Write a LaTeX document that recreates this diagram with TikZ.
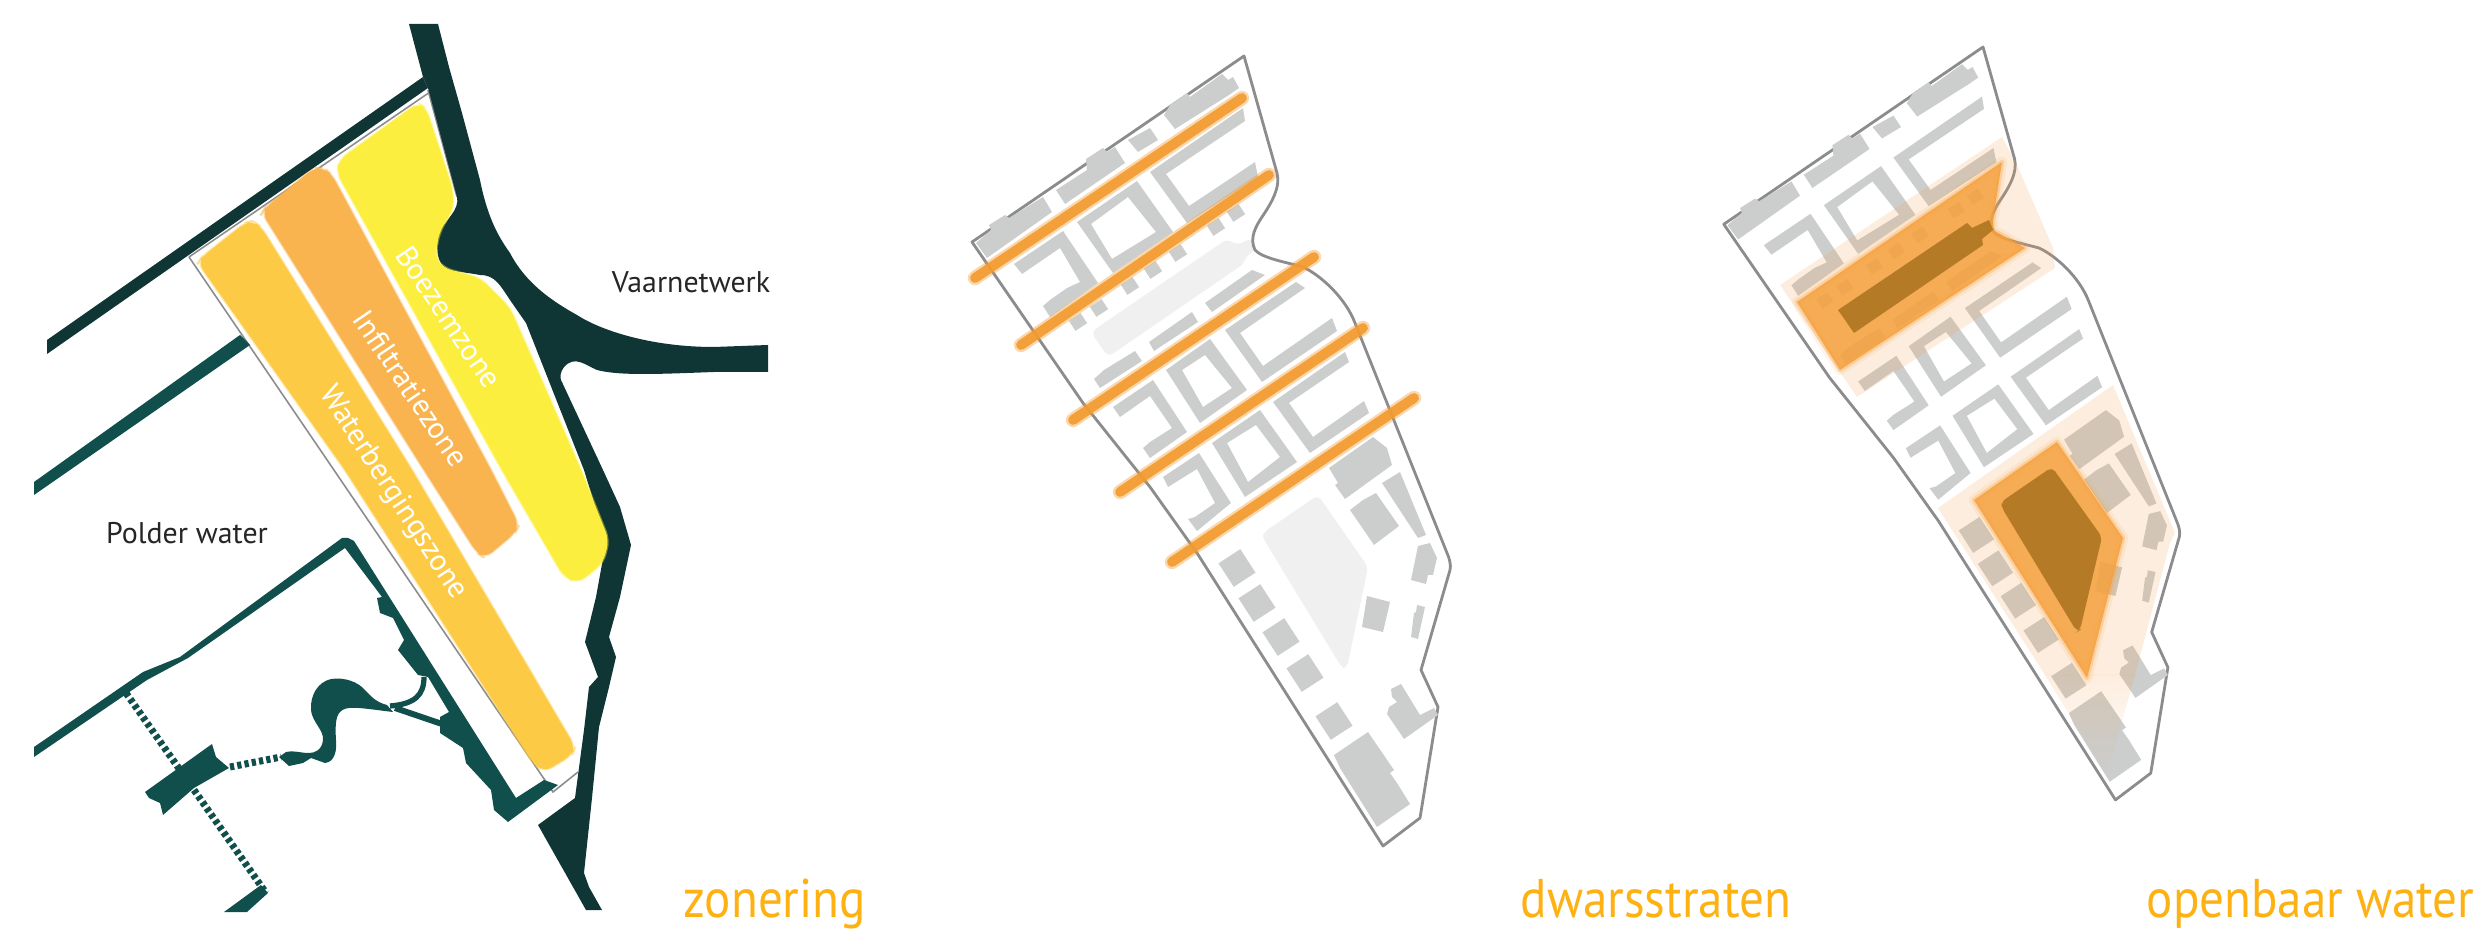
\documentclass[tikz,border=0pt]{standalone}
\usepackage{fontspec}
\setmainfont{PT Sans}
\newfontfamily\titlefont[FakeStretch=.9]{PT Sans}
\usepackage{tikz}
\usetikzlibrary{fadings}
\definecolor{channel}{HTML}{0F3535}
\definecolor{polder}{HTML}{114F4D}
\definecolor{bldgrey}{HTML}{CCCECD}
\definecolor{siteline}{HTML}{8C8C8E}
\definecolor{plaza}{HTML}{F0F0F0}
\definecolor{boezem}{HTML}{FCEE3E}
\definecolor{infil}{HTML}{F9B34F}
\definecolor{berging}{HTML}{FDCA45}
\definecolor{streetor}{HTML}{F39B30}
\definecolor{paleor}{HTML}{F19E4C}
\definecolor{midor}{HTML}{F6A13D}
\definecolor{brownor}{HTML}{B47A26}
\definecolor{titleor}{HTML}{FDB112}
\tikzset{
    bld/.style={fill=bldgrey},
    plazafill/.style={fill=plaza, rounded corners=1.5pt},
    zone/.style={fill=#1, draw=#1, draw opacity=.45, line width=.7pt, rounded corners=2.5pt},
    zonetxt/.style={text=white, font=\fontsize{8.6}{10}\selectfont, inner sep=0pt},
    lbl/.style={text=black!85, font=\fontsize{8.5}{10}\selectfont, inner sep=0pt},
    paneltitle/.style={text=titleor, font=\titlefont\fontsize{15.5}{18}\selectfont, anchor=base west, inner sep=0pt},
    street/.style={draw=streetor, line width=2.8pt, line cap=round, opacity=.92},
    streetglow/.style={draw=streetor, line width=4.1pt, line cap=round, opacity=.4},
    pale/.style={fill=paleor, fill opacity=.185, line join=round},
    mid/.style={fill=midor, fill opacity=.85, draw=midor, draw opacity=.3, line width=1.3pt, line join=round},
    midglow/.style={draw=midor, draw opacity=.12, line width=3pt, line join=round},
    sluice/.style={draw=polder, line width=2pt, dash pattern=on 1.2pt off .9pt},
}
\newcommand{\sitemap}{
    \draw[siteline, line width=.8pt, line join=round] (1244,56) -- (1277,173)
        .. controls (1281,188) and (1270,205) .. (1262,217)
        .. controls (1256,226) and (1249,238) .. (1255,250)
        .. controls (1262,258) and (1285,262) .. (1303,267)
        .. controls (1320,275) and (1345,297) .. (1355,323)
        -- (1447,553) .. controls (1450,560) and (1451,565) .. (1450,570)
        -- (1421,670) -- (1438,707) -- (1420,818) -- (1383,846)
        -- (1197,553) -- (1150,487) -- (1083,403) -- (972,242) -- cycle;
    \fill[bld] (976,243) -- (991,230) -- (989,225) -- (1005,215) -- (1009,218) -- (1043,197) -- (1052,212) -- (987,258) -- cycle;
    \fill[bld] (1056,190) -- (1087,170) -- (1086,159) -- (1103,148) -- (1107,152) -- (1115,147) -- (1125,163) -- (1065,204) -- cycle;
    \fill[bld] (1128,140) -- (1150,128) -- (1158,140) -- (1138,152) -- cycle;
    \fill[bld] (1164,115) -- (1170,105) -- (1187,93) -- (1190,97) -- (1222,74) -- (1228,80) -- (1233,77) -- (1239,88) -- (1229,95) -- (1175,129) -- cycle;
    \fill[bld] (1243,108) -- (1150,172) -- (1187,223) -- (1258,177) -- (1255,162) -- (1189,206) -- (1166,174) -- (1245,121) -- cycle;
    \fill[bld, even odd rule] (1077,222) -- (1137,181) -- (1173,232) -- (1113,273) -- cycle (1091,224) -- (1128,197) -- (1156,232) -- (1112,259) -- cycle;
    \fill[bld] (1014,264) -- (1063,231) -- (1098,283) -- (1050,317) -- (1043,306) -- (1050,300) -- (1067,288) -- (1080,282) -- (1060,248) -- (1022,274) -- cycle;
    \fill[bld] (1205,303) -- (1252,270) -- (1265,275) -- (1212,312) -- cycle;
    \fill[bld] (1149,342) -- (1192,312) -- (1198,322) -- (1154,351) -- cycle;
    \fill[bld] (1094,379) -- (1104,370) -- (1135,351) -- (1142,361) -- (1100,388) -- cycle;
    \fill[bld] (1296,282) -- (1225,330) -- (1262,382) -- (1337,331) -- (1332,318) -- (1263,366) -- (1240,333) -- (1305,288) -- cycle;
    \fill[bld, even odd rule] (1166,370) -- (1210,339) -- (1247,390) -- (1200,423) -- cycle (1182,370) -- (1205,355) -- (1232,388) -- (1203,407) -- cycle;
    \fill[bld] (1113,407) -- (1153,380) -- (1187,432) -- (1150,458) -- (1143,448) -- (1150,442) -- (1172,428) -- (1150,396) -- (1120,417) -- cycle;
    \fill[bld] (1345,352) -- (1273,402) -- (1310,453) -- (1369,413) -- (1364,401) -- (1313,437) -- (1289,403) -- (1349,362) -- cycle;
    \fill[bld, even odd rule] (1212,443) -- (1260,410) -- (1297,462) -- (1245,497) -- cycle (1227,443) -- (1256,425) -- (1280,457) -- (1248,482) -- cycle;
    \fill[bld] (1163,477) -- (1199,453) -- (1231,503) -- (1197,531) -- (1188,519) -- (1195,517) -- (1215,503) -- (1197,469) -- (1168,487) -- cycle;
    \fill[bld] (1329,468) -- (1373,437) -- (1387,448) -- (1392,465) -- (1345,499) -- (1335,485) -- (1338,483) -- cycle;
    \fill[bld] (1382,483) -- (1400,472) -- (1426,535) -- (1418,538) -- cycle;
    \fill[bld] (1350,510) -- (1363,500) -- (1376,493) -- (1399,526) -- (1374,545) -- cycle;
    \fill[bld] (1418,546) -- (1430,543) -- (1437,558) -- (1433,575) -- (1428,575) -- (1426,584) -- (1411,580) -- cycle;
    \fill[bld] (1367,596) -- (1390,602) -- (1383,632) -- (1362,627) -- cycle;
    \fill[bld] (1417,605) -- (1425,607) -- (1418,639) -- (1411,637) -- (1414,613) -- (1416,612) -- cycle;
    \fill[bld] (1334,755) -- (1368,732) -- (1394,770) -- (1390,773) -- (1397,783) -- (1410,804) -- (1377,827) -- (1340,768) -- cycle;
    \fill[bld] (1391,689) -- (1401,684) -- (1420,715) -- (1434,708) -- (1438,715) -- (1404,739) -- (1387,714) -- (1389,707) -- (1397,702) -- (1392,697) -- cycle;
    \foreach \x/\y in {1236/213,1216/227,1178/253,1153/270,1130/286,1099/308,1078/322}
        \fill[bld, rotate around={33:(\x,\y)}] (\x-7,\y-6) rectangle (\x+7,\y+6);
    \foreach \x/\y in {1237/568,1257/603,1281/637,1305/673,1334/721}
        \fill[bld, rotate around={33:(\x,\y)}] (\x-13,\y-14) rectangle (\x+13,\y+14);
}
\begin{document}
\begin{tikzpicture}[x=0.01cm, y=-0.01cm]
    \useasboundingbox (0,0) rectangle (2481,946);

    \draw[siteline, line width=.45pt] (428,90) -- (457,197);
    \draw[siteline, line width=.45pt] (189,257) -- (553,792) -- (578,772);
    \draw[siteline, line width=.45pt] (430,92) -- (189,257);
    \fill[polder] (240,335) -- (250,345) -- (34,495) -- (34,482) -- cycle;
    \fill[polder, line join=round] (34,747) -- (143,672) -- (180,657) -- (342,538) -- (348,538) -- (354,541)
        -- (516,798) -- (544,780) -- (558,785) -- (508,822) -- (494,810) -- (491,790) -- (466,763)
        -- (463,748) -- (440,733) -- (440,717) -- (449,712) -- (428,677) -- (418,675) -- (398,650)
        -- (404,640) -- (393,618) -- (380,613) -- (377,598) -- (382,597) -- (345,548)
        -- (188,658) -- (147,680) -- (34,757) -- cycle;
    \draw[polder, line width=1.5pt] (390,706) .. controls (415,704) and (424,695) .. (424,677);
    \draw[polder, line width=1.7pt] (395,708) -- (442,724);
    \fill[polder] (387,705) .. controls (375,702) and (370,695) .. (365,690)
        .. controls (358,682) and (345,677) .. (331,679)
        .. controls (318,682) and (310,695) .. (311,710)
        .. controls (312,722) and (324,730) .. (323,740)
        .. controls (322,750) and (315,753) .. (309,753)
        .. controls (300,753) and (293,750) .. (286,752)
        -- (279,757) -- (289,766) -- (303,763) -- (311,758) -- (325,763)
        .. controls (335,762) and (337,750) .. (336,740)
        .. controls (335,725) and (336,716) .. (340,712)
        .. controls (346,705) and (360,708) .. (393,712) -- cycle;
    \fill[polder] (145,792) -- (212,744) -- (216,757) -- (229,768) -- (194,788) -- (163,815) -- (160,803) -- (149,798) -- cycle;
    \fill[polder] (261,885) -- (268,893) -- (247,912) -- (224,912) -- cycle;
    \draw[sluice] (126,693) -- (180,770);
    \draw[sluice] (194,790) -- (266,893);
    \draw[sluice] (230,767) -- (281,757);

    \fill[channel] (423,77) -- (428,88) -- (47,354) -- (47,340) -- cycle;
    \fill[channel] (409,24) -- (438,24) -- (449,67) -- (462,113) -- (480,180)
        .. controls (487,215) and (497,235) .. (510,253)
        .. controls (525,282) and (550,300) .. (577,315)
        .. controls (600,330) and (650,347) .. (714,347) -- (768,345) -- (768,372) -- (714,372)
        .. controls (660,374) and (620,376) .. (597,370)
        .. controls (585,365) and (575,355) .. (564,367)
        .. controls (560,372) and (560,378) .. (561,380)
        -- (603,470) -- (620,507) -- (631,545) -- (620,597) -- (609,637) -- (616,657) -- (609,687)
        -- (599,727) -- (592,798) -- (584,873) -- (589,887) -- (602,910) -- (586,910) -- (538,825)
        -- (575,798) -- (584,730) -- (589,687) -- (598,677) -- (585,642) -- (596,597) -- (606,542)
        -- (584,470) -- (526,323) -- (510,300)
        .. controls (500,285) and (495,275) .. (480,275)
        .. controls (465,272) and (450,272) .. (444,267)
        .. controls (436,260) and (436,245) .. (439,233)
        .. controls (445,220) and (460,210) .. (457,197)
        -- (428,88) -- (423,77) -- cycle;

    \draw[zone=boezem] (418,103) -- (426,108) -- (452,187) -- (454,207) -- (439,233) -- (435,257) -- (443,268)
        -- (480,278) -- (510,308) -- (581,470) -- (609,540) -- (603,563) -- (578,583) -- (564,577)
        -- (502,470) -- (337,173) -- (339,160) -- cycle;
    \draw[zone=infil] (324,168) -- (332,175) -- (491,470) -- (519,525) -- (515,533) -- (485,558) -- (477,553)
        -- (424,470) -- (262,213) -- (265,208) -- (314,168) -- cycle;
    \draw[zone=berging] (253,221) -- (261,227) -- (412,470) -- (575,747) -- (572,755) -- (544,772) -- (533,763)
        -- (345,470) -- (198,263) -- (202,257) -- (245,223) -- cycle;

    \node[zonetxt, rotate=-56] (boezemlabel) at (449,317) {Boezemzone};
    \node[zonetxt, rotate=-56] (infillabel) at (411,388) {Infiltratiezone};
    \node[zonetxt, rotate=-57] (berginglabel) at (393,493) {Waterbergingszone};
    \node[lbl] (vaarlabel) at (691,282) {Vaarnetwerk};
    \node[lbl] (polderlabel) at (187,533) {Polder water};
    \node[paneltitle] (zonering) at (683,917) {zonering};

    \fill[plazafill] (1091,332) -- (1227,239) -- (1237,245) -- (1252,238) -- (1256,250) -- (1245,257) -- (1245,263) -- (1108,357) -- cycle;
    \fill[plazafill] (1263,533) -- (1318,495) -- (1368,567) -- (1347,668) -- (1342,668) -- (1263,538) -- cycle;
    \sitemap
    \foreach \xa/\ya/\xb/\yb in {975/278/1242/98,1021/345/1269/175,1073/420/1314/257,1120/492/1363/328,1172/562/1414/398} {
        \draw[streetglow] (\xa,\ya) -- (\xb,\yb);
        \draw[street] (\xa,\ya) -- (\xb,\yb);
    }
    \node[paneltitle] (dwars) at (1520,917) {dwarsstraten};

    \begin{scope}[shift={(1983,47)}, scale=0.953, shift={(-1244,-56)}]
        \sitemap
    \end{scope}
    \fill[pale] (1780,285) -- (2002,137) -- (2017,165) -- (2053,248) -- (2055,268) -- (1857,397) -- cycle;
    \fill[pale] (1938,508) -- (2113,385) -- (2175,533) -- (2170,543) -- (2135,675) -- (2045,675) -- cycle;
    \fill[pale, path fading=south] (2045,675) -- (2135,675) -- (2107,775) -- cycle;
    \draw[midglow] (1797,302) -- (2002,162) -- (1993,220) -- (1993,230) -- (2025,248) -- (1840,370) -- cycle;
    \draw[midglow] (1974,500) -- (2057,442) -- (2123,538) -- (2087,678) -- cycle;
    \filldraw[mid] (1797,302) -- (2002,162) -- (1993,220) -- (1993,230) -- (2025,248) -- (1840,370) -- cycle;
    \filldraw[mid] (1974,500) -- (2057,442) -- (2123,538) -- (2087,678) -- cycle;
    \fill[brownor] (1838,310) -- (1967,223) -- (1972,228) -- (1989,220) -- (1993,230) -- (1982,239) -- (1983,245) -- (1854,333) -- cycle;
    \fill[brownor, rounded corners=1.5pt] (2001,502) -- (2052,467) -- (2102,537) -- (2080,630) -- (2077,632) -- (2002,508) -- cycle;
    \node[paneltitle] (openbaar) at (2146,917) {openbaar water};
\end{tikzpicture}
\end{document}
